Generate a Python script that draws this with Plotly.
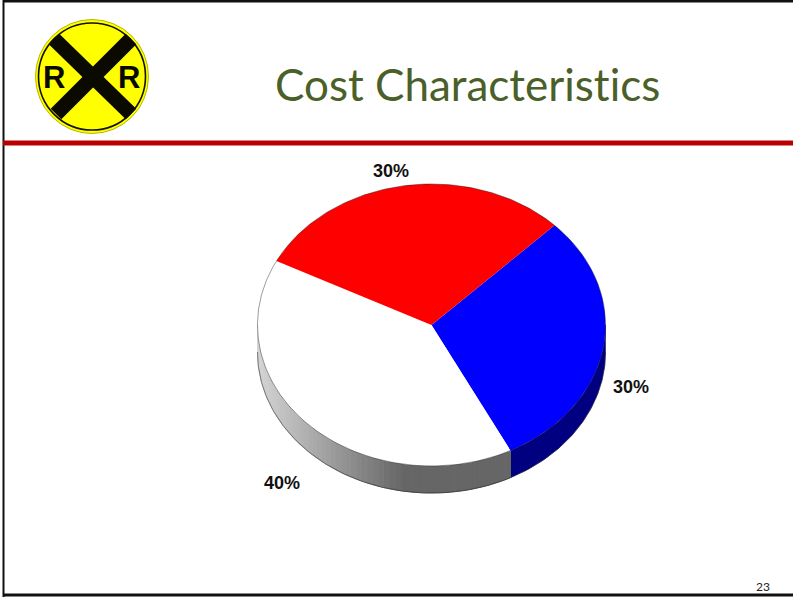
import math
import plotly.graph_objects as go

# Slice data, drawn clockwise from the first-slice angle
segments = ["Blue", "White", "Red"]
shares = [30, 40, 30]
top_colors = ["#0000ff", "#ffffff", "#ff0000"]
wall_colors = ["#000080", None, None]

# The zero-width non-joiner keeps the t and i as separate glyphs
title_text = "Cost Characterist\u200cics"
page_number = "23"

# Projection of the tilted disc on the page
CX, CY = 431.5, 325
RX, RY = 174, 141
DEPTH = 27
FIRST_ANGLE = 45
INK = "#111111"


def point(deg, drop=0.0):
    t = math.radians(deg)
    return CX + RX * math.sin(t), CY - RY * math.cos(t) + drop


def arc(a0, a1, drop=0.0, step=1.0):
    n = max(2, int(abs(a1 - a0) / step) + 1)
    pts = [point(a0 + (a1 - a0) * i / (n - 1), drop) for i in range(n)]
    return [p[0] for p in pts], [p[1] for p in pts]


def wall(a0, a1):
    x0, y0 = arc(a0, a1)
    x1, y1 = arc(a1, a0, DEPTH)
    return x0 + x1 + [x0[0]], y0 + y1 + [y0[0]]


def wall_gray(x):
    # Shading runs from pale at the left rim to mid gray near the front
    f = min(1.0, max(0.0, (x - 258) / 145))
    v = int(round(212 + (102 - 212) * f))
    return f"rgb({v},{v},{v})"


fig = go.Figure()

spans = []
start = FIRST_ANGLE
for share in shares:
    sweep = share / sum(shares) * 360
    spans.append((start, start + sweep))
    start += sweep

# Side wall of the disc (only the front half is visible)
for (a0, a1), wall_col in zip(spans, wall_colors):
    lo, hi = max(a0, 90), min(a1, 270)
    if lo >= hi:
        continue
    if wall_col:
        wx, wy = wall(lo, hi)
        fig.add_trace(go.Scatter(x=wx, y=wy, mode="lines", fill="toself", fillcolor=wall_col,
                                 line=dict(color=wall_col, width=0.5), hoverinfo="skip"))
    else:
        strips = 60
        for i in range(strips):
            s0 = lo + (hi - lo) * i / strips
            s1 = lo + (hi - lo) * (i + 1) / strips
            wx, wy = wall(s0, s1)
            c = wall_gray(point((s0 + s1) / 2)[0])
            fig.add_trace(go.Scatter(x=wx, y=wy, mode="lines", fill="toself", fillcolor=c,
                                     line=dict(color=c, width=1), hoverinfo="skip"))

# Dark rim along the bottom of the wall
rx_, ry_ = arc(90, 270, DEPTH)
fig.add_trace(go.Scatter(x=rx_, y=ry_, mode="lines",
                         line=dict(color="rgba(40,40,40,0.55)", width=1), hoverinfo="skip"))

# Top face slices
for (a0, a1), col in zip(spans, top_colors):
    ax, ay = arc(a0, a1)
    fig.add_trace(go.Scatter(x=[CX] + ax + [CX], y=[CY] + ay + [CY], mode="lines", fill="toself",
                             fillcolor=col, line=dict(color=col, width=0), hoverinfo="skip"))

# Thin rim on the top face
rx_, ry_ = arc(0, 360)
fig.add_trace(go.Scatter(x=rx_, y=ry_, mode="lines",
                         line=dict(color="rgba(30,30,30,0.55)", width=0.8), hoverinfo="skip"))

shapes = [
    # Slide frame and title rule
    dict(type="line", x0=3.5, x1=3.5, y0=0, y1=597, line=dict(color=INK, width=2)),
    dict(type="line", x0=3, x1=793, y0=1, y1=1, line=dict(color=INK, width=3)),
    dict(type="line", x0=3, x1=793, y0=595, y1=595, line=dict(color=INK, width=3)),
    dict(type="line", x0=3, x1=793, y0=143, y1=143, line=dict(color="#bb0000", width=5)),
]

# Crossing sign, layered over the page
sign = [
    dict(type="circle", x0=35.5, x1=148.5, y0=19.5, y1=133.5, fillcolor="#ffff00",
         line=dict(color="#b8b800", width=1)),
    dict(type="circle", x0=38.5, x1=145.5, y0=23, y1=130, fillcolor="#ffff00",
         line=dict(color="#111100", width=1.6)),
    dict(type="line", x0=54, y0=39, x1=131, y1=114, line=dict(color="#0a0a00", width=15)),
    dict(type="line", x0=131, y0=39, x1=56, y1=114, line=dict(color="#0a0a00", width=15)),
]

annotations = [
    dict(x=467, y=84, text=title_text, font=dict(family="Lato", size=44, color="#4a6028")),
    dict(x=54, y=77, text="<b>R</b>", font=dict(family="Liberation Sans", size=31, color="#0a0a00")),
    dict(x=129, y=77, text="<b>R</b>", font=dict(family="Liberation Sans", size=31, color="#0a0a00")),
    dict(x=763, y=586, text=page_number, font=dict(family="Lato", size=12, color="#222222")),
]

# Percentage labels around the disc: blue, white, red
label_anchors = [(631, 387), (282, 483), (391, 171)]
for share, (lx, ly) in zip(shares, label_anchors):
    annotations.append(dict(x=lx, y=ly, text=f"<b>{share}%</b>",
                            font=dict(family="Liberation Sans", size=18, color="#111111")))

for a in annotations:
    a.update(xref="x", yref="y", showarrow=False, xanchor="center", yanchor="middle")
for s in shapes + sign:
    s.update(xref="x", yref="y", layer="above")

fig.update_layout(
    width=793, height=597, margin=dict(l=0, r=0, t=0, b=0),
    paper_bgcolor="white", plot_bgcolor="white", showlegend=False,
    xaxis=dict(range=[0, 793], visible=False, fixedrange=True),
    yaxis=dict(range=[597, 0], visible=False, fixedrange=True),
    shapes=shapes + sign, annotations=annotations,
)

fig.write_html("out.html", config=dict(displayModeBar=False))
